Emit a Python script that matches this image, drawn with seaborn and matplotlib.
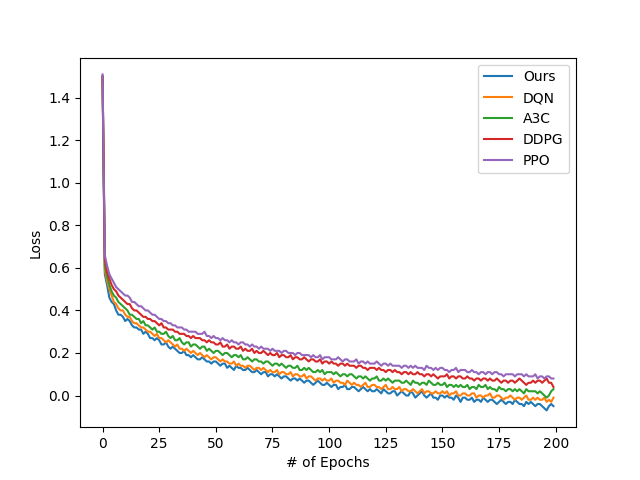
import matplotlib
matplotlib.use("Agg")
import matplotlib.pyplot as plt
import pandas as pd
import seaborn as sns

# loss per epoch
ours = [
    1.50, 0.57, 0.52, 0.46, 0.44, 0.43, 0.40, 0.38, 0.38, 0.37,
    0.35, 0.36, 0.35, 0.33, 0.32, 0.32, 0.31, 0.31, 0.29, 0.30,
    0.29, 0.27, 0.27, 0.26, 0.27, 0.26, 0.24, 0.24, 0.25, 0.23,
    0.22, 0.23, 0.22, 0.21, 0.20, 0.20, 0.21, 0.19, 0.19, 0.18,
    0.19, 0.18, 0.17, 0.17, 0.18, 0.17, 0.16, 0.16, 0.15, 0.16,
    0.16, 0.15, 0.14, 0.15, 0.15, 0.13, 0.14, 0.13, 0.12, 0.14,
    0.13, 0.13, 0.12, 0.12, 0.13, 0.12, 0.11, 0.11, 0.12, 0.11,
    0.10, 0.11, 0.11, 0.09, 0.10, 0.10, 0.09, 0.10, 0.09, 0.08,
    0.09, 0.09, 0.08, 0.07, 0.08, 0.08, 0.07, 0.08, 0.07, 0.06,
    0.07, 0.07, 0.06, 0.05, 0.06, 0.07, 0.06, 0.05, 0.05, 0.06,
    0.05, 0.04, 0.05, 0.05, 0.03, 0.04, 0.04, 0.05, 0.03, 0.03,
    0.04, 0.04, 0.03, 0.02, 0.03, 0.04, 0.03, 0.02, 0.03, 0.02,
    0.02, 0.03, 0.02, 0.01, 0.03, 0.02, 0.01, 0.01, 0.02, 0.02,
    0.00, 0.01, 0.02, 0.01, 0.00, 0.00, 0.02, 0.01, -0.01, 0.00,
    0.01, 0.02, 0.00, -0.01, 0.00, 0.01, -0.01, -0.01, -0.02, 0.00,
    0.00, -0.01, 0.00, -0.01, -0.01, -0.02, 0.00, -0.01, -0.03, -0.01,
    -0.01, -0.02, -0.02, -0.01, -0.03, -0.02, -0.02, -0.03, -0.01, -0.02,
    -0.03, -0.02, -0.02, -0.03, -0.04, -0.03, -0.02, -0.03, -0.04, -0.03,
    -0.03, -0.04, -0.02, -0.03, -0.04, -0.04, -0.05, -0.03, -0.04, -0.03,
    -0.04, -0.05, -0.04, -0.04, -0.05, -0.06, -0.07, -0.05, -0.04, -0.05,
]
dqn = [
    1.50, 0.59, 0.54, 0.50, 0.47, 0.44, 0.43, 0.41, 0.40, 0.40,
    0.38, 0.37, 0.37, 0.35, 0.34, 0.34, 0.33, 0.32, 0.32, 0.31,
    0.30, 0.30, 0.29, 0.28, 0.29, 0.27, 0.27, 0.26, 0.25, 0.26,
    0.25, 0.24, 0.23, 0.24, 0.22, 0.22, 0.21, 0.22, 0.21, 0.20,
    0.21, 0.20, 0.19, 0.20, 0.19, 0.18, 0.19, 0.18, 0.17, 0.18,
    0.18, 0.17, 0.16, 0.17, 0.16, 0.16, 0.15, 0.15, 0.16, 0.14,
    0.15, 0.14, 0.14, 0.13, 0.14, 0.14, 0.13, 0.12, 0.13, 0.13,
    0.12, 0.13, 0.12, 0.11, 0.12, 0.11, 0.11, 0.12, 0.10, 0.11,
    0.11, 0.10, 0.10, 0.11, 0.09, 0.10, 0.10, 0.09, 0.09, 0.10,
    0.08, 0.09, 0.09, 0.08, 0.07, 0.08, 0.08, 0.07, 0.08, 0.07,
    0.07, 0.08, 0.06, 0.07, 0.07, 0.06, 0.06, 0.05, 0.07, 0.06,
    0.05, 0.06, 0.05, 0.05, 0.04, 0.05, 0.06, 0.04, 0.04, 0.05,
    0.05, 0.04, 0.04, 0.03, 0.04, 0.05, 0.03, 0.03, 0.04, 0.03,
    0.03, 0.04, 0.02, 0.03, 0.03, 0.02, 0.02, 0.03, 0.02, 0.01,
    0.02, 0.03, 0.01, 0.02, 0.02, 0.01, 0.01, 0.02, 0.01, 0.01,
    0.02, 0.01, 0.02, 0.00, 0.01, 0.01, 0.02, 0.00, 0.00, 0.01,
    0.01, 0.00, 0.00, 0.01, 0.01, -0.01, 0.00, 0.00, -0.01, 0.00,
    0.00, 0.01, -0.01, -0.01, 0.00, 0.00, -0.01, -0.02, -0.01, -0.01,
    0.00, -0.01, -0.02, -0.01, -0.01, -0.02, -0.01, 0.00, -0.02, -0.02,
    -0.01, -0.02, -0.01, -0.02, -0.02, -0.01, -0.03, -0.02, -0.03, -0.01,
]
a3c = [
    1.50, 0.61, 0.56, 0.52, 0.49, 0.47, 0.46, 0.44, 0.43, 0.42,
    0.41, 0.40, 0.38, 0.38, 0.37, 0.36, 0.36, 0.34, 0.35, 0.33,
    0.33, 0.32, 0.31, 0.32, 0.30, 0.30, 0.29, 0.29, 0.30, 0.28,
    0.27, 0.28, 0.26, 0.26, 0.27, 0.25, 0.24, 0.25, 0.25, 0.23,
    0.24, 0.24, 0.23, 0.22, 0.23, 0.23, 0.21, 0.22, 0.21, 0.20,
    0.21, 0.21, 0.20, 0.19, 0.20, 0.20, 0.19, 0.18, 0.19, 0.19,
    0.18, 0.19, 0.17, 0.17, 0.18, 0.17, 0.16, 0.17, 0.17, 0.16,
    0.16, 0.15, 0.16, 0.16, 0.15, 0.14, 0.15, 0.15, 0.14, 0.15,
    0.14, 0.13, 0.14, 0.14, 0.13, 0.13, 0.14, 0.12, 0.12, 0.13,
    0.12, 0.13, 0.12, 0.11, 0.11, 0.12, 0.11, 0.12, 0.10, 0.11,
    0.11, 0.11, 0.10, 0.11, 0.10, 0.09, 0.10, 0.10, 0.09, 0.10,
    0.10, 0.09, 0.08, 0.09, 0.09, 0.08, 0.09, 0.08, 0.07, 0.08,
    0.08, 0.09, 0.07, 0.07, 0.08, 0.07, 0.08, 0.07, 0.06, 0.07,
    0.07, 0.07, 0.06, 0.06, 0.07, 0.06, 0.05, 0.07, 0.06, 0.06,
    0.05, 0.06, 0.06, 0.05, 0.07, 0.06, 0.05, 0.05, 0.06, 0.05,
    0.05, 0.06, 0.04, 0.05, 0.05, 0.04, 0.05, 0.04, 0.05, 0.04,
    0.04, 0.05, 0.03, 0.04, 0.04, 0.03, 0.05, 0.04, 0.04, 0.05,
    0.03, 0.04, 0.03, 0.03, 0.02, 0.04, 0.03, 0.03, 0.02, 0.03,
    0.03, 0.02, 0.03, 0.02, 0.03, 0.02, 0.01, 0.03, 0.02, 0.02,
    0.02, 0.02, 0.01, 0.02, 0.01, 0.00, -0.01, 0.00, 0.02, 0.03,
]
ddpg = [
    1.50, 0.64, 0.58, 0.55, 0.52, 0.50, 0.49, 0.47, 0.46, 0.45,
    0.44, 0.43, 0.43, 0.41, 0.40, 0.40, 0.39, 0.38, 0.37, 0.37,
    0.36, 0.36, 0.35, 0.35, 0.34, 0.33, 0.34, 0.32, 0.32, 0.31,
    0.31, 0.31, 0.30, 0.30, 0.29, 0.29, 0.29, 0.28, 0.28, 0.27,
    0.28, 0.27, 0.27, 0.27, 0.26, 0.26, 0.25, 0.26, 0.25, 0.25,
    0.24, 0.24, 0.25, 0.23, 0.23, 0.24, 0.22, 0.23, 0.23, 0.22,
    0.22, 0.23, 0.21, 0.22, 0.21, 0.21, 0.22, 0.20, 0.21, 0.20,
    0.20, 0.21, 0.20, 0.19, 0.20, 0.19, 0.19, 0.20, 0.18, 0.19,
    0.19, 0.18, 0.18, 0.19, 0.17, 0.18, 0.18, 0.17, 0.17, 0.18,
    0.17, 0.16, 0.17, 0.17, 0.16, 0.16, 0.17, 0.15, 0.16, 0.16,
    0.15, 0.16, 0.15, 0.15, 0.14, 0.15, 0.15, 0.14, 0.15, 0.14,
    0.14, 0.14, 0.13, 0.14, 0.14, 0.13, 0.13, 0.12, 0.13, 0.13,
    0.13, 0.12, 0.13, 0.12, 0.12, 0.11, 0.12, 0.12, 0.11, 0.12,
    0.11, 0.11, 0.10, 0.11, 0.11, 0.10, 0.11, 0.10, 0.10, 0.11,
    0.10, 0.10, 0.09, 0.10, 0.10, 0.09, 0.10, 0.09, 0.08, 0.09,
    0.09, 0.09, 0.10, 0.08, 0.09, 0.09, 0.08, 0.09, 0.09, 0.08,
    0.08, 0.09, 0.08, 0.08, 0.07, 0.08, 0.08, 0.07, 0.08, 0.08,
    0.07, 0.08, 0.07, 0.07, 0.08, 0.07, 0.06, 0.07, 0.07, 0.06,
    0.07, 0.07, 0.06, 0.07, 0.08, 0.07, 0.06, 0.05, 0.06, 0.06,
    0.07, 0.06, 0.07, 0.07, 0.06, 0.07, 0.08, 0.06, 0.06, 0.04,
]
ppo = [
    1.51, 0.66, 0.61, 0.57, 0.55, 0.53, 0.51, 0.50, 0.49, 0.48,
    0.47, 0.47, 0.46, 0.44, 0.44, 0.43, 0.42, 0.42, 0.41, 0.40,
    0.40, 0.39, 0.38, 0.38, 0.37, 0.36, 0.36, 0.35, 0.35, 0.34,
    0.34, 0.33, 0.33, 0.32, 0.32, 0.32, 0.31, 0.31, 0.30, 0.30,
    0.30, 0.30, 0.29, 0.29, 0.29, 0.30, 0.28, 0.28, 0.27, 0.28,
    0.27, 0.27, 0.26, 0.27, 0.26, 0.26, 0.25, 0.26, 0.25, 0.25,
    0.24, 0.25, 0.25, 0.24, 0.24, 0.23, 0.24, 0.23, 0.23, 0.22,
    0.23, 0.22, 0.22, 0.22, 0.21, 0.22, 0.21, 0.21, 0.21, 0.20,
    0.21, 0.21, 0.20, 0.20, 0.20, 0.19, 0.20, 0.20, 0.19, 0.19,
    0.19, 0.19, 0.18, 0.19, 0.18, 0.18, 0.19, 0.17, 0.18, 0.18,
    0.18, 0.17, 0.17, 0.17, 0.18, 0.17, 0.16, 0.17, 0.17, 0.16,
    0.16, 0.16, 0.17, 0.15, 0.16, 0.16, 0.15, 0.16, 0.15, 0.15,
    0.15, 0.16, 0.15, 0.14, 0.15, 0.15, 0.14, 0.15, 0.14, 0.14,
    0.14, 0.14, 0.13, 0.14, 0.14, 0.13, 0.14, 0.13, 0.14, 0.13,
    0.13, 0.13, 0.12, 0.14, 0.13, 0.13, 0.12, 0.13, 0.12, 0.13,
    0.13, 0.12, 0.12, 0.11, 0.12, 0.12, 0.13, 0.11, 0.12, 0.12,
    0.12, 0.11, 0.11, 0.12, 0.11, 0.11, 0.10, 0.11, 0.11, 0.10,
    0.11, 0.11, 0.10, 0.11, 0.11, 0.10, 0.10, 0.09, 0.10, 0.10,
    0.10, 0.10, 0.09, 0.10, 0.10, 0.10, 0.09, 0.10, 0.09, 0.09,
    0.09, 0.10, 0.08, 0.09, 0.09, 0.08, 0.09, 0.09, 0.08, 0.08,
]
methods = ["Ours", "DQN", "A3C", "DDPG", "PPO"]

series = dict(zip(methods, [ours, dqn, a3c, ddpg, ppo]))
df = pd.concat(
    [pd.DataFrame({"epoch": range(len(v)), "loss": v, "method": k}) for k, v in series.items()],
    ignore_index=True,
)

plt.figure(figsize=(6.4, 4.8), dpi=100)
ax = sns.lineplot(data=df, x="epoch", y="loss", hue="method", hue_order=methods,
                  palette="tab10", linewidth=1.5)
sns.move_legend(ax, "upper right", title=None)

ax.set_xlabel("# of Epochs")
ax.set_ylabel("Loss")

plt.savefig("out.png", dpi=100)
